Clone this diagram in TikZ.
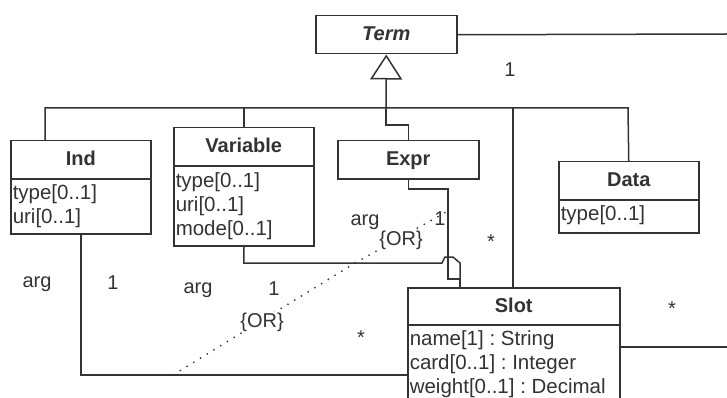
\documentclass[tikz,border=0pt]{standalone}
\usepackage{fontspec}
\setmainfont{Liberation Sans}
\usetikzlibrary{arrows.meta,calc}
\definecolor{ink}{rgb}{0.2,0.2,0.2}
\frenchspacing
\begin{document}
\begin{tikzpicture}[x=1pt,y=-1pt,color=ink,line width=1.5pt,
  cls/.style={draw,fill=white,rectangle,inner sep=0pt,anchor=north west,
    text height=14.5pt,text depth=2.5pt,font=\fontsize{20}{24}\selectfont\bfseries},
  attrbox/.style={draw,fill=white,rectangle,inner sep=0pt,anchor=north west},
  attr/.style={anchor=base west,inner sep=0pt,font=\fontsize{20.5}{24}\selectfont},
  lbl/.style={anchor=base,inner sep=0pt,font=\fontsize{20}{24}\selectfont},
  orline/.style={dash pattern=on 1.4pt off 6.5pt,line width=1.4pt},
  gen/.style={-{Triangle[open,length=25pt,width=32pt]}}]
\useasboundingbox (0,0) rectangle (727,398);
\clip (0,0) rectangle (727,398);

% classes
\node[cls,minimum width=141pt,minimum height=38pt] (term) at (315,15) {\textit{Term}};

\node[cls,minimum width=140pt,minimum height=38pt] (ind) at (10,140) {Ind};
\node[attrbox,minimum width=140pt,minimum height=55pt] (indattr) at (10,178) {};
\node[attr] (ind1) at (12,199) {type[0..1]};
\node[attr] (ind2) at (12,223) {uri[0..1]};

\node[cls,minimum width=140pt,minimum height=38pt] (var) at (173,127) {Variable};
\node[attrbox,minimum width=140pt,minimum height=80pt] (varattr) at (173,165) {};
\node[attr] (var1) at (175,187) {type[0..1]};
\node[attr] (var2) at (175,211) {uri[0..1]};
\node[attr] (var3) at (175,235) {mode[0..1]};

\node[cls,minimum width=141pt,minimum height=38pt] (expr) at (337,140) {Expr};

\node[cls,minimum width=140pt,minimum height=38pt] (data) at (558,161) {Data};
\node[attrbox,minimum width=140pt,minimum height=33pt] (dataattr) at (558,199) {};
\node[attr] (data1) at (560,220) {type[0..1]};

\node[cls,minimum width=212pt,minimum height=37pt] (slot) at (407,287) {Slot};
\node[attrbox,minimum width=212pt,minimum height=100pt] (slotattr) at (407,324) {};
\node[attr] (slot1) at (409,345) {name[1] : String};
\node[attr] (slot2) at (409,369) {card[0..1] : Integer};
\node[attr] (slot3) at (409,393) {weight[0..1] : Decimal};

% generalization tree
\coordinate (bus) at (386,108);
\coordinate (busL) at (45,108);
\coordinate (busR) at (628,108);
\coordinate (slotbus) at (513,108);
\draw[gen] (bus) -- (term.south);
\draw ($(ind.north west)+(35,0)$) -- (busL) -- (busR) -- (data.north);
\draw (var.north) -- (var.north |- bus);
\draw (bus) |- ($(expr.north)+(0,-15)$) -- (expr.north);
\draw (slotbus) -- (slotbus |- slot.north);

% associations leaving to the right
\coordinate (eastA) at (727,34);
\coordinate (eastB) at (727,347);
\draw (term.east) -- (eastA);
\draw ($(slot.north east)+(0,60)$) -- (eastB);

% arg associations into Slot
\draw (indattr.south) |- ($(slotattr.north west)+(0,51)$);
\draw (varattr.south) |- (442,263) -- (445,257) -- (453,257) -- (460,263)
  -- ($(slot.north west)+(53,0)$);
\draw (expr.south) |- (448,189) -- (448,279) -- (460,279)
  -- ($(slot.north west)+(53,0)$);

% {OR} constraints
\coordinate (or1) at (173,375);
\coordinate (or2) at (355,263);
\coordinate (or3) at (448,211);
\draw[orline] (or1) -- (or2) -- (or3);

% labels
\node[lbl] (l1) at (37,287) {arg};
\node[lbl] (l2) at (113,289) {1};
\node[lbl] (l3) at (198,293) {arg};
\node[lbl] (l4) at (274,295) {1};
\node[lbl,fill=white,inner sep=1pt] (l5) at (262,327) {\{OR\}};
\node[lbl] (l6) at (361,344.5) {*};
\node[lbl] (l7) at (365,225) {arg};
\node[lbl] (l8) at (440,225) {1};
\node[lbl,fill=white,inner sep=1pt] (l9) at (401,245) {\{OR\}};
\node[lbl] (l10) at (491,248.5) {*};
\node[lbl] (l11) at (510,77) {1};
\node[lbl] (l12) at (672,315.5) {*};
\end{tikzpicture}
\end{document}
